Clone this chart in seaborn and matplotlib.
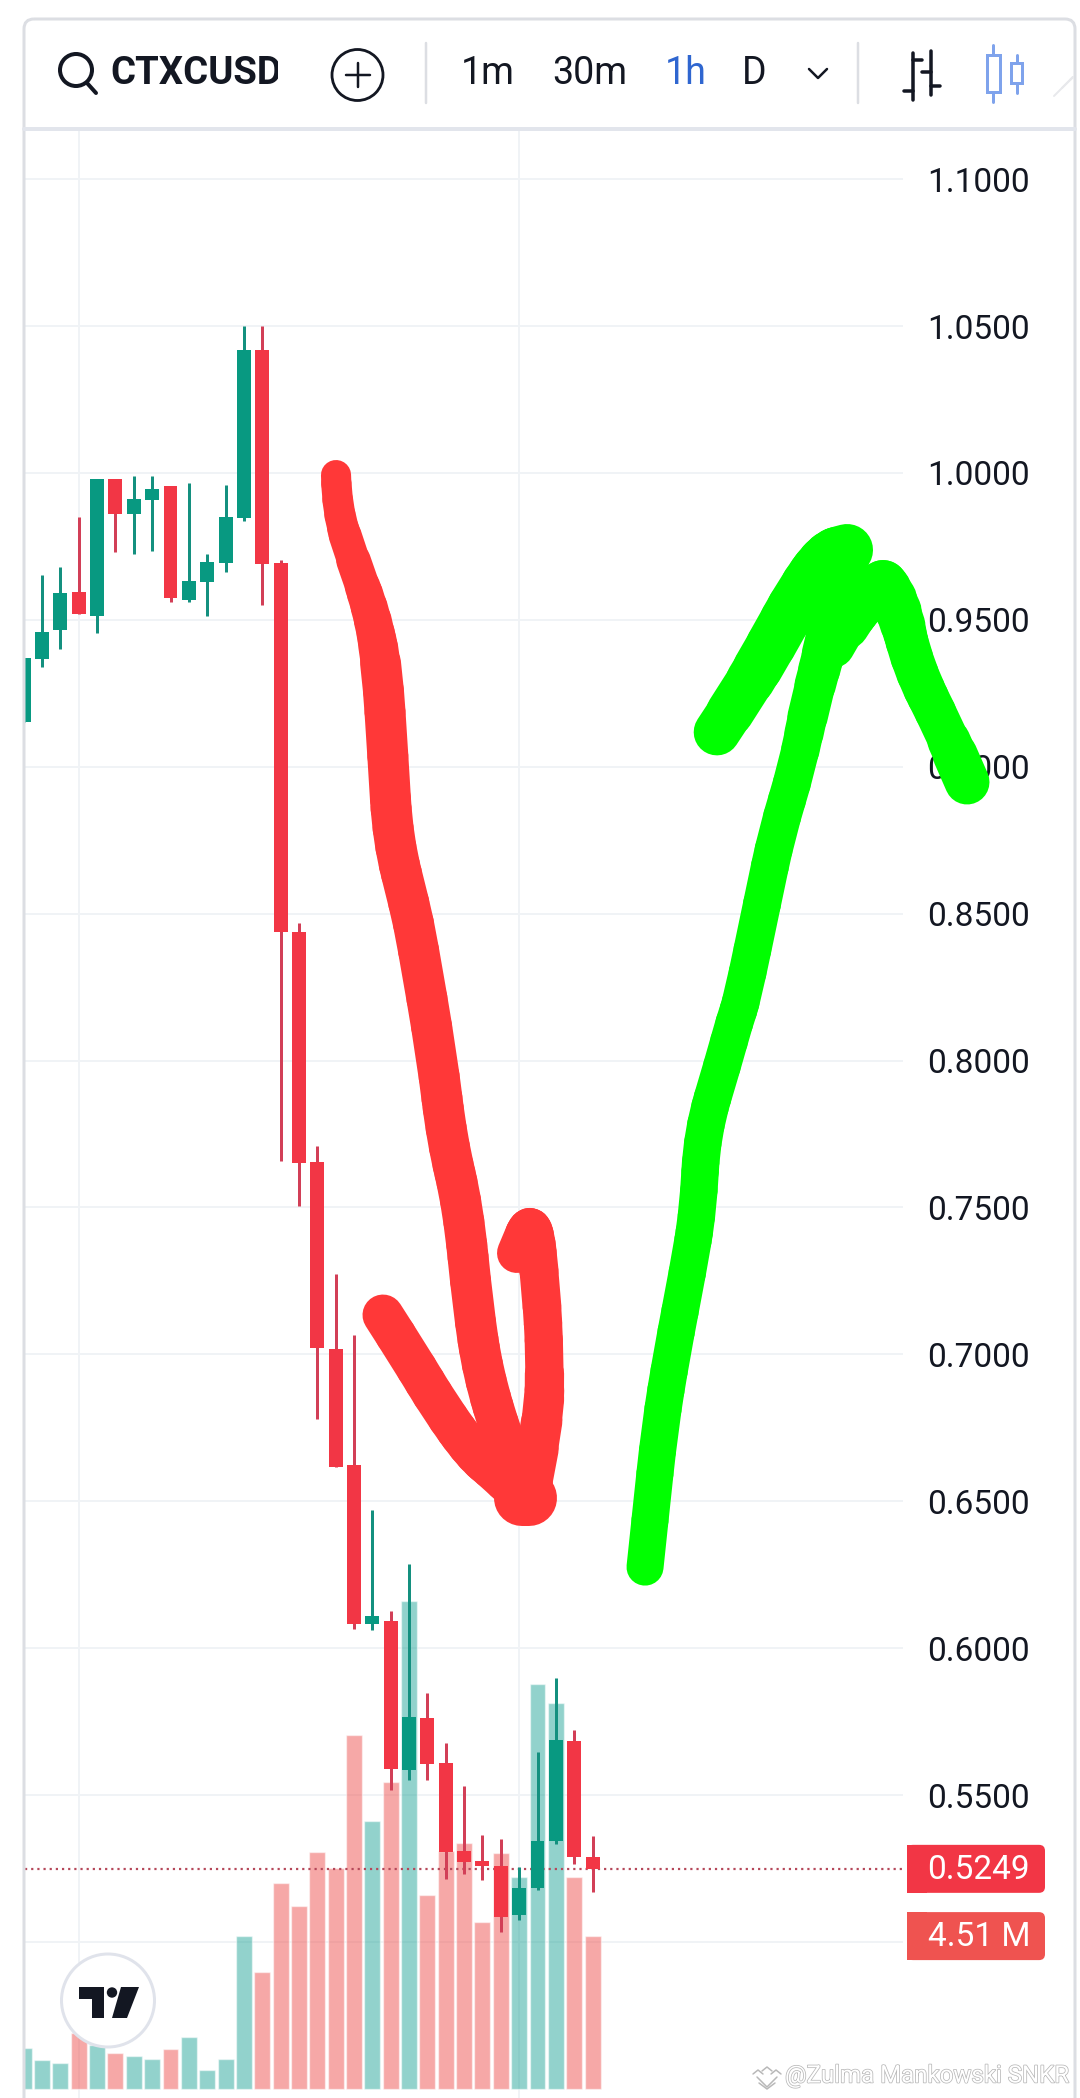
"""CTXCUSD 1h candles with volume and two hand-drawn arrows, phone screenshot layout."""
import matplotlib
matplotlib.use("Agg")
import matplotlib.pyplot as plt
import matplotlib.patheffects as pe
from matplotlib.collections import LineCollection
from matplotlib.patches import Circle, FancyBboxPatch, Polygon, Rectangle
from matplotlib.path import Path
import numpy as np
import pandas as pd
import seaborn as sns

# ── Data ──────────────────────────────────────────────────────────────────────
opens = [.9152, .9367, .9466, .9595, .9514, .9980, .9861, .9908, .9956, .9568, .9629,
         .9694, .9847, 1.0419, .9694, .8438, .7655, .7019, .6622, .6083, .6091, .5584,
         .5763, .5610, .5309, .5276, .5259, .5091, .5183, .5344, .5685, .5291]
highs = [.9370, .9653, .9679, .9851, .9980, .9980, .9990, .9990, .9956, .9966, .9724,
         .9959, 1.0500, 1.0500, .9704, .8469, .7710, .7274, .7066, .6469, .6125, .6287,
         .5848, .5677, .5532, .5364, .5349, .5254, .5645, .5899, .5720, .5362]
lows = [.9152, .9340, .9401, .9520, .9455, .9731, .9724, .9734, .9561, .9561, .9513,
        .9663, .9837, .9551, .7658, .7505, .6781, .6618, .6066, .6062, .5519, .5553,
        .5553, .5214, .5231, .5211, .5035, .5075, .5176, .5335, .5267, .5170]
closes = [.9370, .9459, .9592, .9520, .9980, .9861, .9912, .9946, .9575, .9632, .9697,
          .9850, 1.0419, .9690, .8439, .7651, .7021, .6618, .6082, .6108, .5588, .5767,
          .5607, .5306, .5271, .5259, .5084, .5183, .5345, .5687, .5288, .5249]
volumes = [1.22, .86, .77, 1.65, 1.30, 1.06, .97, .88, 1.18, 1.53, .56, .88, 4.51, 3.45,
           6.08, 5.40, 6.99, 6.52, 10.44, 7.91, 9.06, 14.40, 5.72, 7.02, 7.26, 4.93,
           6.96, 6.25, 11.95, 11.39, 6.25, 4.51]

price_ticks = [.50, .55, .60, .65, .70, .75, .80, .85, .90, .95, 1.00, 1.05, 1.10]
price_labels = ["", "0.5500", "0.6000", "0.6500", "0.7000", "0.7500", "0.8000",
                "0.8500", "0.9000", "0.9500", "1.0000", "1.0500", "1.1000"]
time_gridlines = [3, 27]
last_price = 0.5249
last_volume = 4.51

# hand-drawn arrows, x in candle index, y in price
red_main_x = [17.02, 17.07, 17.95, 18.98, 19.53, 19.85, 20.12, 21.05, 21.43, 22.52, 23.07,
              23.94, 24.49, 25.03, 26.12, 27.43]
red_main_y = [.9993, .9874, .9704, .9523, .9340, .9033, .8751, .8523, .8410, .8012, .7730,
              .7502, .7161, .6937, .6709, .6498]
red_left_x = [19.58, 21.05, 22.69, 24.49, 25.79, 27.43]
red_left_y = [.7134, .6991, .6821, .6664, .6596, .6498]
red_tip_x = [27.15, 27.55]
red_tip_y = [.6512, .6512]
red_right_x = [27.43, 28.35, 28.40, 28.20, 27.75, 26.88]
red_right_y = [.6498, .6767, .6991, .7219, .7474, .7345]
green_main_x = [33.86, 34.13, 34.67, 35.33, 36.20, 36.75, 36.97, 38.11, 38.76, 39.14,
                40.28, 41.05, 42.14, 42.90, 43.80, 44.87]
green_main_y = [.6276, .6436, .6753, .7005, .7287, .7491, .7754, .7992, .8138, .8206,
                .8547, .8775, .8999, .9227, .9432, .9738]
green_left_x = [37.78, 39.30, 40.70, 42.30, 43.80, 44.87]
green_left_y = [.9118, .9261, .9410, .9590, .9720, .9738]
green_knee_x = [43.6, 44.7, 45.9, 46.83]
green_knee_y = [.9350, .9480, .9580, .9619]
green_right_x = [46.83, 47.59, 48.46, 50.10, 51.41]
green_right_y = [.9619, .9568, .9340, .9135, .8948]

# ── Style / layout ────────────────────────────────────────────────────────────
COL_UP = "#089981"
COL_DOWN = "#f23645"
COL_WICK_UP = "#14907f"
COL_WICK_DOWN = "#d23f57"
COL_VOL_UP = "#26a69a"
COL_VOL_DOWN = "#ef5350"
COL_GRID = "#f0f3f6"
COL_BORDER = "#dcdee3"
COL_TEXT = "#131722"
COL_BLUE = "#2f66d0"
COL_RED_PEN = "#ff3838"
COL_GREEN_PEN = "#00ff00"

W, H = 1080, 2098
AX_L, AX_R, AX_T, AX_B = 25, 903, 130, 2098   # plot area in pixels
X0_PX, STEP_PX = 23.7, 18.35                   # candle 0 centre and spacing
Y_1_PX, PX_PER_PRICE = 473, 2938               # where price 1.0 sits, and scale
VOL_BASE_PX, PX_PER_M = 2089, 33.9


def pt(px):
    return px * 0.72


def price_px(p):
    return Y_1_PX + (1 - p) * PX_PER_PRICE


def pen_path(xs, ys):
    # rounded pen stroke: quadratic curves through the segment midpoints
    pts = list(zip(xs, ys))
    verts, codes = [pts[0]], [Path.MOVETO]
    for a, b in zip(pts[1:-1], pts[2:]):
        verts += [a, ((a[0] + b[0]) / 2, (a[1] + b[1]) / 2)]
        codes += [Path.CURVE3, Path.CURVE3]
    verts.append(pts[-1])
    codes.append(Path.LINETO)
    return Path(verts, codes)


def draw_pen(axis, xs, ys, color, stops, widths):
    # pen width changes along the stroke; stops are fractions of its length
    line = pen_path(xs, ys).to_polygons(transform=axis.transData, closed_only=False)[0]
    lens = np.r_[0, np.cumsum(np.hypot(*np.diff(line, axis=0).T))]
    mids = (lens[:-1] + lens[1:]) / 2 / lens[-1]
    data = axis.transData.inverted().transform(line)
    segs = np.stack([data[:-1], data[1:]], axis=1)
    lc = LineCollection(segs, colors=color, linewidths=pt(np.interp(mids, stops, widths)),
                        capstyle="round", joinstyle="round", clip_on=False, zorder=5)
    axis.add_collection(lc, autolim=False)


sns.set_theme(style="white")
plt.rcParams["font.family"] = ["Roboto", "DejaVu Sans"]

df = pd.DataFrame({"i": range(len(opens)), "open": opens, "high": highs, "low": lows,
                   "close": closes, "volume": volumes})
df["up"] = df["close"] >= df["open"]

fig = plt.figure(figsize=(W / 100, H / 100), dpi=100, facecolor="white")
rect = [AX_L / W, 1 - AX_B / H, (AX_R - AX_L) / W, (AX_B - AX_T) / H]
xlim = ((AX_L - X0_PX) / STEP_PX, (AX_R - X0_PX) / STEP_PX)
ylim = (1 - (AX_B - Y_1_PX) / PX_PER_PRICE, 1 + (Y_1_PX - AX_T) / PX_PER_PRICE)

# ── Base axes: grid and price labels ──────────────────────────────────────────
ax = fig.add_axes(rect, zorder=1)
ax.set_xlim(xlim)
ax.set_ylim(ylim)
ax.yaxis.tick_right()
ax.set_yticks(price_ticks, price_labels)
ax.set_xticks(time_gridlines, [])
ax.tick_params(axis="y", length=0, pad=pt(24), labelsize=24, labelcolor=COL_TEXT)
ax.tick_params(axis="x", length=0)
ax.grid(True, color=COL_GRID, linewidth=pt(2))
sns.despine(ax=ax, left=True, bottom=True, right=True, top=True)

# ── Volume bars ───────────────────────────────────────────────────────────────
ax_vol = fig.add_axes(rect, zorder=2)
ax_vol.patch.set_visible(False)
sns.barplot(data=df, x="i", y="volume", hue="up", native_scale=True, dodge=False,
            palette={True: COL_VOL_UP, False: COL_VOL_DOWN}, saturation=1, alpha=0.5,
            width=0.87, errorbar=None, legend=False, ax=ax_vol)
ax_vol.set_xlim(xlim)
ax_vol.set_ylim((VOL_BASE_PX - AX_B) / PX_PER_M, (VOL_BASE_PX - AX_T) / PX_PER_M)
ax_vol.axis("off")

# ── Candles and pen strokes ───────────────────────────────────────────────────
ax_top = fig.add_axes(rect, zorder=3)
ax_top.patch.set_visible(False)
ax_top.set_xlim(xlim)
ax_top.set_ylim(ylim)
ax_top.axis("off")

ax_top.hlines(last_price, *xlim, color="#b5485a", linewidth=pt(2.2),
              linestyle=(0, (1, 1.8)), zorder=1)
ax_top.vlines(df["i"], df["low"], df["high"], linewidth=pt(3),
              color=[COL_WICK_UP if u else COL_WICK_DOWN for u in df["up"]], zorder=2)
ax_top.bar(df["i"], (df["close"] - df["open"]).abs(), bottom=df[["open", "close"]].min(axis=1),
           width=0.76, color=[COL_UP if u else COL_DOWN for u in df["up"]], linewidth=0, zorder=3)

draw_pen(ax_top, red_main_x, red_main_y, COL_RED_PEN, [0, .04, .2, 1], [30, 31, 41, 41])
draw_pen(ax_top, red_left_x, red_left_y, COL_RED_PEN, [0, 1], [41, 41])
draw_pen(ax_top, red_right_x, red_right_y, COL_RED_PEN, [0, .5, 1], [44, 38, 40])
draw_pen(ax_top, red_tip_x, red_tip_y, COL_RED_PEN, [0, 1], [56, 56])
draw_pen(ax_top, green_main_x, green_main_y, COL_GREEN_PEN, [0, .8, .93, 1], [37, 38, 44, 50])
draw_pen(ax_top, green_left_x, green_left_y, COL_GREEN_PEN, [0, .4, 1], [46, 50, 52])
draw_pen(ax_top, green_knee_x, green_knee_y, COL_GREEN_PEN, [0, .45, 1], [30, 48, 50])
draw_pen(ax_top, green_right_x, green_right_y, COL_GREEN_PEN, [0, .25, .7, 1], [50, 43, 41, 46])

# ── Screen chrome, in pixel coordinates ───────────────────────────────────────
ui = fig.add_axes([0, 0, 1, 1], zorder=4)
ui.set_xlim(0, W)
ui.set_ylim(H, 0)
ui.axis("off")

# frame and toolbar
ui.add_patch(FancyBboxPatch((24, 19), 1051, 2200, boxstyle="round,pad=0,rounding_size=10",
                            fc="none", ec=COL_BORDER, lw=pt(3)))
ui.plot([24, 1075], [129, 129], color="#e2e5ec", lw=pt(4))
ui.plot([425.6, 425.6], [43, 103], color=COL_BORDER, lw=pt(2.5))
ui.plot([858, 858], [43, 103], color=COL_BORDER, lw=pt(2.5))

# search icon and symbol
ui.add_patch(Circle((76, 70), 16, fc="none", ec=COL_TEXT, lw=pt(4)))
ui.plot([87, 96], [83, 93], color=COL_TEXT, lw=pt(4), solid_capstyle="round")
ui.text(110, 73, "CTXCUSD", fontsize=27.5, fontweight="bold", color=COL_TEXT, va="center", ha="left")
ui.add_patch(Rectangle((278, 40), 40, 60, fc="white", ec="none", zorder=3))

# add button
ui.add_patch(Circle((357.5, 75), 25.5, fc="white", ec=COL_TEXT, lw=pt(2.8), zorder=4))
ui.plot([345.5, 369.5], [75, 75], color=COL_TEXT, lw=pt(2.5), zorder=5)
ui.plot([357.5, 357.5], [63, 87], color=COL_TEXT, lw=pt(2.5), zorder=5)

# intervals
for label, cx, col in [("1m", 488, COL_TEXT), ("30m", 590, COL_TEXT),
                       ("1h", 686, COL_BLUE), ("D", 754, COL_TEXT)]:
    ui.text(cx, 74, label, fontsize=27, color=col, ha="center", va="center")
ui.plot([809, 818, 827], [69, 78, 69], color=COL_TEXT, lw=pt(2.5))

# bar style icons
for bx, y0, y1, left_y, right_y in [(912.5, 53, 100, 91, 60), (931, 51, 95, 72, 86)]:
    ui.plot([bx, bx], [y0, y1], color=COL_TEXT, lw=pt(3.5))
    ui.plot([bx - 9, bx], [left_y, left_y], color=COL_TEXT, lw=pt(3.5))
    ui.plot([bx, bx + 9], [right_y, right_y], color=COL_TEXT, lw=pt(3.5))
for bx, wt, wb, bt, bb, bw in [(993, 45, 102, 55, 92, 13), (1016.5, 55, 93, 63, 83, 11)]:
    ui.plot([bx, bx], [wt, bt], color="#7fa3ec", lw=pt(3))
    ui.plot([bx, bx], [bb, wb], color="#7fa3ec", lw=pt(3))
    ui.add_patch(Rectangle((bx - bw / 2, bt), bw, bb - bt, fc="white", ec="#7fa3ec", lw=pt(3)))
for off in (0, 8, 16):
    ui.plot([1054 + off, 1073], [96 - off, 96 - off - (19 - off)], color="#e8e9ec", lw=pt(2))

# price and volume tags
for label, cy, col in [(f"{last_price:.4f}", price_px(last_price), COL_DOWN),
                       (f"{last_volume:.2f} M", VOL_BASE_PX - last_volume * PX_PER_M, COL_VOL_DOWN)]:
    ui.add_patch(FancyBboxPatch((907, cy - 24), 138, 48, boxstyle="round,pad=0,rounding_size=6",
                                fc=col, ec="none"))
    ui.add_patch(Rectangle((907, cy - 24), 20, 48, fc=col, ec="none"))
    ui.text(1030, cy + 1, label, color="white", fontsize=24, ha="right", va="center")

# TradingView badge
ui.add_patch(Circle((108, 2000.5), 46.5, fc="white", ec="#e0e3eb", lw=pt(3), zorder=6))
ui.add_patch(Polygon([(79, 1987), (104, 1987), (104, 2018), (92, 2018), (92, 1999), (79, 1999)],
                     fc=COL_TEXT, ec="none", zorder=7))
ui.add_patch(Circle((112, 1992.5), 5.2, fc=COL_TEXT, ec="none", zorder=7))
ui.add_patch(Polygon([(121, 1987), (139, 1987), (127, 2018), (112, 2018)],
                     fc=COL_TEXT, ec="none", zorder=7))

# watermark
COL_MARK = "#b8b8b8"
for xs, ys in [([757, 767, 777], [2077, 2087, 2077]), ([753, 758, 763], [2074, 2070, 2074]),
               ([762, 767, 772], [2071, 2067, 2071]), ([771, 776, 781], [2074, 2070, 2074]),
               ([759, 767, 775], [2083, 2089, 2083])]:
    ui.plot(xs, ys, color=COL_MARK, lw=pt(1.5))
ui.text(785, 2076, "@Zulma Mankowski SNKR", fontsize=17.3, color="white", ha="left", va="center",
        path_effects=[pe.withStroke(linewidth=1.1, foreground=COL_MARK)])

fig.savefig("out.png", dpi=100, facecolor="white")
plt.close(fig)
